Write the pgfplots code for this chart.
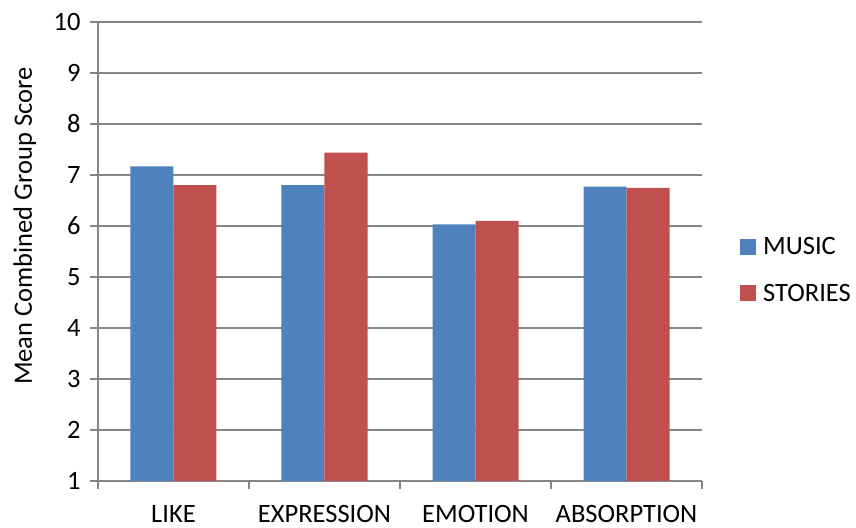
\documentclass[border=0pt]{standalone}
\usepackage{fontspec}
\setmainfont{Carlito}
\usepackage{pgfplots}
\pgfplotsset{compat=1.18}
\definecolor{mblue}{HTML}{4F81BD}
\definecolor{mred}{HTML}{C0504D}
\definecolor{lgray}{HTML}{868686}
\begin{document}
\begin{tikzpicture}[font=\fontsize{26.5bp}{31bp}\selectfont]
\useasboundingbox (-98bp,-47bp) rectangle (758bp,481bp);
\begin{axis}[
  scale only axis,
  width=604bp, height=459bp,
  ybar=0pt, bar width=43bp,
  xmin=-0.5, xmax=3.5,
  ymin=1, ymax=10,
  ytick={1,2,3,4,5,6,7,8,9,10},
  xtick={0,1,2,3},
  xticklabels={LIKE,EXPRESSION,EMOTION,ABSORPTION},
  minor xtick={-0.5,0.5,1.5,2.5,3.5},
  axis lines*=left,
  axis line style={draw=lgray, line width=1.3bp},
  ymajorgrids,
  major grid style={draw=lgray, line width=1.3bp},
  tick align=outside,
  major tick length=8bp, minor tick length=8bp,
  tick style={draw=lgray, line width=1.3bp},
  xtick style={draw=none},
  minor x tick style={draw=lgray, line width=1.3bp},
  xticklabel style={yshift=-13bp},
  yticklabel style={xshift=-6bp},
  /pgf/number format/assume math mode=true,
  ylabel={Mean Combined Group Score},
  ylabel style={at={(axis description cs:-0.121,0.555)}, anchor=center},
  legend style={at={(1,0.46)}, anchor=west, xshift=38bp, inner sep=0pt, draw=none, fill=none, row sep=24bp},
  legend image code/.code={\fill[#1] (0bp,-8bp) rectangle (16bp,8bp); \path (0bp,0bp) -- (21bp,0bp);},
  legend cell align=left,
]
\addplot[fill=mblue, draw=none] coordinates {(0,7.17) (1,6.80) (2,6.03) (3,6.77)};
\addplot[fill=mred, draw=none] coordinates {(0,6.80) (1,7.44) (2,6.10) (3,6.75)};
\legend{MUSIC,STORIES}
\end{axis}
\end{tikzpicture}
\end{document}
